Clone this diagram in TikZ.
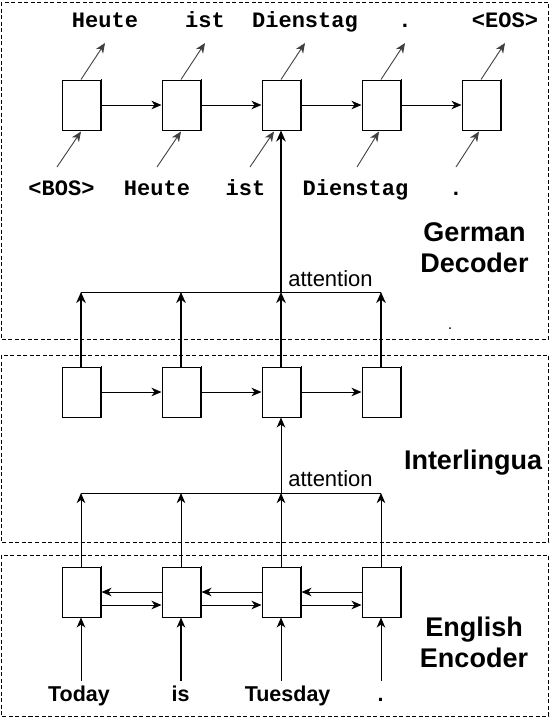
\documentclass[tikz,border=0pt]{standalone}
\usepackage{fontspec}
\setsansfont{Liberation Sans}
\setmonofont{Liberation Mono}
\usetikzlibrary{positioning,arrows.meta}

\tikzset{
  panel/.style={draw, line width=0.9pt, dash pattern=on 4pt off 2.5pt},
  cell/.style={draw, line width=1pt, minimum width=38pt, minimum height=50pt, inner sep=0pt},
  edge/.style={line width=1pt, line cap=rect},
  arr/.style={line width=1pt, -{Stealth[length=10pt,width=8.5pt,inset=3pt]}},
  thickarr/.style={line width=2pt, -{Stealth[length=11pt,width=9.5pt,inset=3.5pt]}},
  diag/.style={line width=0.9pt, black!75, -{Stealth[length=10pt,width=8.5pt,inset=3pt]}},
  deword/.style={font=\fontsize{22}{26}\selectfont\ttfamily\bfseries, anchor=base, inner sep=0pt},
  enword/.style={font=\fontsize{21.5}{26}\selectfont\sffamily\bfseries, anchor=base, inner sep=0pt},
  part/.style={font=\fontsize{27}{31}\selectfont\sffamily\bfseries, align=center, inner sep=0pt},
  attn/.style={font=\fontsize{22}{26}\selectfont\sffamily, anchor=base, inner sep=0pt}
}

\begin{document}
\begin{tikzpicture}[x=1pt,y=-1pt]
\useasboundingbox (0,0) rectangle (550,718);

% the three dashed panels
\draw[panel] (1,2) rectangle (548.5,339);
\draw[panel] (1,355) rectangle (548.5,542);
\draw[panel] (1,555) rectangle (548.5,716);

% cells (right side drawn twice, as in the original)
\foreach \i/\x in {1/81,2/181,3/281,4/381,5/481} {
  \node[cell] (dec\i) at (\x,105) {};
  \draw[edge] ([xshift=1pt]dec\i.north east) -- ([xshift=1pt]dec\i.south east);
}
\foreach \i/\x in {1/81,2/181,3/281,4/381} {
  \node[cell] (int\i) at (\x,392) {};
  \node[cell] (enc\i) at (\x,592) {};
  \draw[edge] ([xshift=1pt]int\i.north east) -- ([xshift=1pt]int\i.south east);
  \draw[edge] ([xshift=1pt]enc\i.north east) -- ([xshift=1pt]enc\i.south east);
}

% recurrent links
\foreach \i/\j in {1/2,2/3,3/4,4/5}
  \draw[arr] (dec\i) -- (dec\j);
\foreach \i/\j in {1/2,2/3,3/4}
  \draw[arr] (int\i) -- (int\j);
\foreach \i/\j in {1/2,2/3,3/4} {
  \draw[arr] (enc\j.west) -- ([xshift=1pt]enc\i.east);
  \draw[arr] ([xshift=1pt,yshift=-13pt]enc\i.east) -- ([yshift=-13pt]enc\j.west);
}

% decoder outputs
\foreach \i/\x/\w in {1/81/Heute,2/181/ist,3/281/Dienstag,4/381/.,5/481/{<EOS>}} {
  \node[deword] (out\i) at (\x+24,27) {\w};
  \draw[diag] (dec\i.north) -- ([yshift=-16pt]out\i.base);
}

% decoder inputs
\foreach \i/\lx/\off/\dx/\w in {1/61.5/-4.5/0/{<BOS>},2/157/0/0/Heute,3/245.5/4.5/-7/ist,4/355.5/1.5/-2/Dienstag,5/456/0/-2/.} {
  \node[deword] (inp\i) at (\lx,195) {\w};
  \draw[diag] ([shift={(\off pt,28pt)}]inp\i.base) -- ([xshift=\dx pt,yshift=-1pt]dec\i.south);
}

% attention: interlingua -> decoder
\foreach \i/\x in {1/81,2/181,3/281,4/381}
  \coordinate (datt\i) at (\x,292);
\draw[line width=1pt] (datt1) -- (datt4);
\foreach \i in {1,...,4}
  \draw[thickarr] (int\i) -- (datt\i);
\draw[thickarr] (datt3) -- (dec3);
\node[attn] (dattlbl) at (330.5,286) {attention};

% attention: encoder -> interlingua
\foreach \i/\x in {1/81,2/181,3/281,4/381}
  \coordinate (eatt\i) at (\x,493);
\draw[line width=1pt] (eatt1) -- (eatt4);
\foreach \i in {1,...,4}
  \draw[arr] (enc\i) -- (eatt\i);
\draw[arr] (eatt3) -- (int3);
\node[attn] (eattlbl) at (330.5,486) {attention};

% english words
\foreach \i/\x/\w/\lw in {1/79/Today/1,2/180.6/is/1.7,3/287.6/Tuesday/1,4/380.6/./1} {
  \node[enword] (src\i) at (\x,701) {\w};
  \path (enc\i.south) ++(0,63) coordinate (srcin\i);
  \draw[arr, line width=\lw pt] (srcin\i) -- (enc\i);
}

% panel names
\node[part] (declbl) at (474.5,247.5) {German\\Decoder};
\node[part, anchor=base] (intlbl) at (473,469) {Interlingua};
\node[part] (enclbl) at (474,642.3) {English\\Encoder};

\fill (450,328) circle (1pt);
\end{tikzpicture}
\end{document}
